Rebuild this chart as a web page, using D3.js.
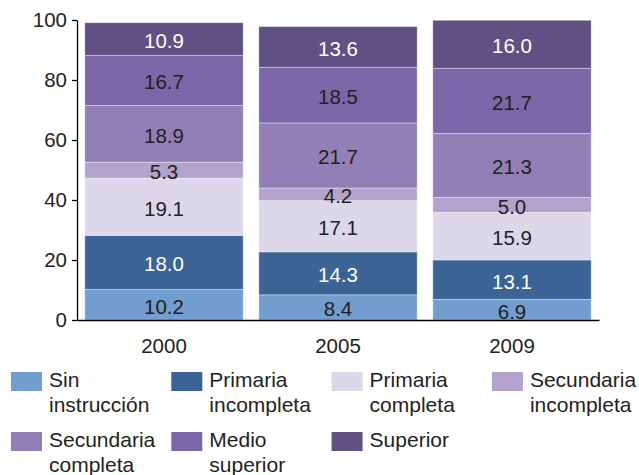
<!DOCTYPE html>
<meta charset="utf-8">
<title>Nivel de instrucción</title>
<style>
body { margin: 0; background: #fff; font-family: 'Liberation Sans', Arial, sans-serif; }
svg { display: block; }
.axis text { font-size: 20.5px; fill: #231f20; font-family: 'Liberation Sans', Arial, sans-serif; }
.axis path, .axis line { stroke: #000; stroke-width: 1.3; }
.seg { stroke: #fff; stroke-opacity: 0.35; stroke-width: 1; }
.lbl { font-size: 20.5px; text-anchor: middle; }
.leg text { font-size: 21px; fill: #231f20; }
</style>
<svg width="639" height="475"></svg>
<script src="https://d3js.org/d3.v7.min.js"></script>
<script>
// data
var years = ["2000", "2005", "2009"];
var categories = ["Sin instrucción", "Primaria incompleta", "Primaria completa",
  "Secundaria incompleta", "Secundaria completa", "Medio superior", "Superior"];
var sinInstruccion = [10.2, 8.4, 6.9];
var primariaIncompleta = [18.0, 14.3, 13.1];
var primariaCompleta = [19.1, 17.1, 15.9];
var secundariaIncompleta = [5.3, 4.2, 5.0];
var secundariaCompleta = [18.9, 21.7, 21.3];
var medioSuperior = [16.7, 18.5, 21.7];
var superior = [10.9, 13.6, 16.0];
var yTicks = [0, 20, 40, 60, 80, 100];

// legend labels are split over two lines
var legendLines = [["Sin", "instrucción"], ["Primaria", "incompleta"], ["Primaria", "completa"],
  ["Secundaria", "incompleta"], ["Secundaria", "completa"], ["Medio", "superior"], ["Superior"]];

var series = [sinInstruccion, primariaIncompleta, primariaCompleta, secundariaIncompleta,
  secundariaCompleta, medioSuperior, superior];

var rows = years.map(function(y, i) {
  var r = { year: y };
  categories.forEach(function(c, j) { r[c] = series[j][i]; });
  return r;
});

var color = d3.scaleOrdinal()
  .domain(categories)
  .range(["#729dcf", "#3b6396", "#dcd8e9", "#b3a2cc", "#917fb5", "#7b67a8", "#615084"]);
var textColor = d3.scaleOrdinal()
  .domain(categories)
  .range(["#231f20", "#fff", "#231f20", "#231f20", "#231f20", "#231f20", "#fff"]);

var svg = d3.select("svg");

var x = d3.scaleBand().domain(years).range([77, 599]).paddingInner(0.09).paddingOuter(0.045);
var y = d3.scaleLinear().domain([0, 100]).range([320, 20]);

var stack = d3.stack().keys(categories);
var layers = stack(rows);

var g = svg.append("g");
var layer = g.selectAll(".layer")
  .data(layers)
  .enter().append("g")
  .attr("class", "layer");

layer.selectAll("rect")
  .data(function(d) { return d.map(function(p) { return { key: d.key, p: p }; }); })
  .enter().append("rect")
  .attr("class", "seg")
  .attr("x", function(d) { return x(d.p.data.year); })
  .attr("width", x.bandwidth())
  .attr("y", function(d) { return y(d.p[1]); })
  .attr("height", function(d) { return y(d.p[0]) - y(d.p[1]); })
  .attr("fill", function(d) { return color(d.key); });

layer.selectAll("text")
  .data(function(d) { return d.map(function(p) { return { key: d.key, p: p }; }); })
  .enter().append("text")
  .attr("class", "lbl")
  .attr("x", function(d) { return x(d.p.data.year) + x.bandwidth() / 2; })
  .attr("y", function(d) { return (y(d.p[0]) + y(d.p[1])) / 2 + 9; })
  .attr("fill", function(d) { return textColor(d.key); })
  .text(function(d) { return d3.format(".1f")(d.p[1] - d.p[0]); });

svg.append("g")
  .attr("class", "axis")
  .attr("transform", "translate(77,0)")
  .call(d3.axisLeft(y).tickValues(yTicks).tickSize(5).tickSizeOuter(0).tickPadding(5));

svg.append("g")
  .attr("class", "axis")
  .attr("transform", "translate(0,320)")
  .call(d3.axisBottom(x).tickSize(0).tickPadding(18));

// legend
var leg = svg.append("g").attr("class", "leg")
  .selectAll("g")
  .data(categories)
  .enter().append("g")
  .attr("transform", function(d, i) {
    return "translate(" + (11 + (i % 4) * 160.3) + "," + (372 + Math.floor(i / 4) * 60) + ")";
  });

leg.append("rect")
  .attr("width", 31)
  .attr("height", 19)
  .attr("fill", function(d) { return color(d); });

leg.append("text")
  .attr("x", 38)
  .attr("y", 15)
  .selectAll("tspan")
  .data(function(d, i) { return legendLines[i]; })
  .enter().append("tspan")
  .attr("x", 38)
  .attr("dy", function(d, i) { return i ? 25 : 0; })
  .text(function(d) { return d; });
</script>
